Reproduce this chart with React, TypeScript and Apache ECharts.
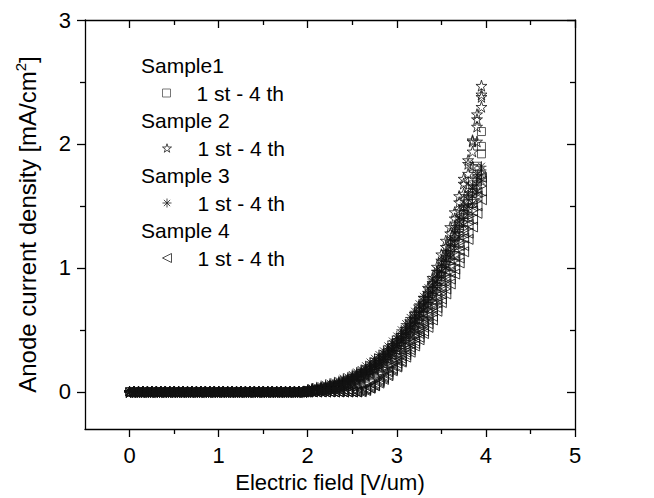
import React, { useEffect, useRef } from "react";
import * as echarts from "echarts";

const FONT = "'Liberation Sans', Arial, Helvetica, sans-serif";

// Electric field grid [V/um]
const X_FLAT = [0, 0.05, 0.1, 0.15, 0.2, 0.25, 0.3, 0.35, 0.4, 0.45, 0.5, 0.55, 0.6, 0.65, 0.7, 0.75, 0.8, 0.85, 0.9, 0.95,
  1, 1.05, 1.1, 1.15, 1.2, 1.25, 1.3, 1.35, 1.4, 1.45, 1.5, 1.55, 1.6, 1.65, 1.7, 1.75, 1.8, 1.85, 1.9, 1.95];
const Y_FLAT = [0, 0, 0, 0, 0, 0, 0, 0, 0, 0, 0, 0, 0, 0, 0, 0, 0, 0, 0, 0,
  0, 0, 0, 0, 0, 0, 0, 0, 0, 0, 0, 0, 0, 0, 0, 0, 0, 0, 0, 0];
const X_RISE = [2, 2.05, 2.1, 2.15, 2.2, 2.25, 2.3, 2.35, 2.4, 2.45, 2.5, 2.55, 2.6, 2.65, 2.7, 2.75, 2.8, 2.85, 2.9, 2.95,
  3, 3.05, 3.1, 3.15, 3.2, 3.25, 3.3, 3.35, 3.4, 3.45, 3.5, 3.55, 3.6, 3.65, 3.7, 3.75, 3.8, 3.85, 3.9, 3.95];

// Anode current density [mA/cm2] on X_RISE
const S1_RUN1 = [0.01, 0.01, 0.01, 0.02, 0.02, 0.03, 0.03, 0.04, 0.05, 0.06, 0.08, 0.09, 0.11, 0.13, 0.15, 0.18, 0.2, 0.23, 0.27, 0.3,
  0.34, 0.38, 0.43, 0.48, 0.53, 0.58, 0.64, 0.71, 0.78, 0.85, 0.93, 1.02, 1.11, 1.21, 1.32, 1.43, 1.55, 1.67, 1.8, 2.1];
const S1_RUN2 = [0, 0.01, 0.01, 0.01, 0.02, 0.02, 0.03, 0.03, 0.04, 0.05, 0.07, 0.08, 0.1, 0.12, 0.14, 0.16, 0.19, 0.21, 0.25, 0.28,
  0.32, 0.36, 0.4, 0.45, 0.5, 0.55, 0.61, 0.67, 0.74, 0.81, 0.89, 0.97, 1.06, 1.16, 1.26, 1.37, 1.48, 1.6, 1.72, 1.98];
const S1_RUN3 = [0.01, 0.01, 0.02, 0.02, 0.03, 0.03, 0.04, 0.05, 0.06, 0.07, 0.09, 0.1, 0.12, 0.14, 0.17, 0.19, 0.22, 0.25, 0.29, 0.32,
  0.36, 0.41, 0.45, 0.5, 0.56, 0.61, 0.68, 0.74, 0.81, 0.89, 0.97, 1.06, 1.15, 1.25, 1.36, 1.47, 1.58, 1.7, 1.82, 1.92];
const S1_RUN4 = [0, 0, 0.01, 0.01, 0.01, 0.02, 0.02, 0.03, 0.04, 0.05, 0.06, 0.07, 0.09, 0.11, 0.13, 0.15, 0.17, 0.2, 0.23, 0.26,
  0.3, 0.34, 0.38, 0.42, 0.47, 0.52, 0.57, 0.63, 0.7, 0.77, 0.84, 0.92, 1.01, 1.1, 1.2, 1.3, 1.41, 1.52, 1.63, 1.75];

const S2_RUN1 = [0.01, 0.02, 0.02, 0.03, 0.03, 0.04, 0.05, 0.06, 0.07, 0.09, 0.1, 0.12, 0.13, 0.16, 0.18, 0.21, 0.24, 0.27, 0.31, 0.35,
  0.39, 0.43, 0.48, 0.54, 0.59, 0.66, 0.72, 0.8, 0.88, 0.97, 1.06, 1.17, 1.28, 1.4, 1.53, 1.68, 1.84, 2.02, 2.24, 2.47];
const S2_RUN2 = [0.01, 0.01, 0.02, 0.02, 0.03, 0.04, 0.04, 0.05, 0.06, 0.08, 0.09, 0.11, 0.12, 0.14, 0.17, 0.19, 0.22, 0.25, 0.29, 0.32,
  0.36, 0.4, 0.45, 0.5, 0.55, 0.61, 0.68, 0.75, 0.83, 0.91, 1.0, 1.1, 1.21, 1.33, 1.46, 1.6, 1.76, 1.94, 2.14, 2.38];
const S2_RUN3 = [0.01, 0.02, 0.02, 0.03, 0.04, 0.05, 0.06, 0.07, 0.08, 0.09, 0.11, 0.13, 0.15, 0.17, 0.2, 0.23, 0.26, 0.29, 0.33, 0.37,
  0.41, 0.46, 0.51, 0.57, 0.63, 0.69, 0.76, 0.84, 0.92, 1.01, 1.11, 1.22, 1.33, 1.45, 1.58, 1.72, 1.87, 2.03, 2.2, 2.4];
const S2_RUN4 = [0, 0.01, 0.01, 0.02, 0.02, 0.03, 0.04, 0.04, 0.05, 0.07, 0.08, 0.09, 0.11, 0.13, 0.15, 0.18, 0.2, 0.23, 0.27, 0.3,
  0.34, 0.38, 0.42, 0.47, 0.52, 0.58, 0.64, 0.71, 0.78, 0.86, 0.95, 1.04, 1.14, 1.25, 1.37, 1.5, 1.65, 1.82, 2.02, 2.3];

const S3_RUN1 = [0.02, 0.03, 0.03, 0.04, 0.05, 0.06, 0.07, 0.08, 0.1, 0.11, 0.13, 0.15, 0.17, 0.19, 0.22, 0.25, 0.28, 0.31, 0.35, 0.39,
  0.43, 0.47, 0.52, 0.57, 0.62, 0.68, 0.74, 0.8, 0.87, 0.95, 1.02, 1.1, 1.19, 1.28, 1.37, 1.46, 1.55, 1.64, 1.72, 1.79];
const S3_RUN2 = [0.01, 0.02, 0.03, 0.03, 0.04, 0.05, 0.06, 0.07, 0.09, 0.1, 0.12, 0.14, 0.16, 0.18, 0.2, 0.23, 0.26, 0.29, 0.33, 0.36,
  0.4, 0.44, 0.49, 0.54, 0.59, 0.64, 0.7, 0.76, 0.83, 0.9, 0.97, 1.05, 1.13, 1.22, 1.31, 1.4, 1.49, 1.58, 1.67, 1.75];
const S3_RUN3 = [0.02, 0.03, 0.04, 0.05, 0.06, 0.07, 0.08, 0.09, 0.11, 0.12, 0.14, 0.16, 0.18, 0.21, 0.24, 0.27, 0.3, 0.33, 0.37, 0.41,
  0.45, 0.5, 0.55, 0.6, 0.65, 0.71, 0.77, 0.84, 0.91, 0.98, 1.06, 1.14, 1.23, 1.32, 1.41, 1.5, 1.59, 1.67, 1.75, 1.82];
const S3_RUN4 = [0.01, 0.01, 0.02, 0.03, 0.03, 0.04, 0.05, 0.06, 0.07, 0.09, 0.1, 0.12, 0.14, 0.16, 0.18, 0.21, 0.24, 0.27, 0.3, 0.34,
  0.37, 0.41, 0.46, 0.5, 0.55, 0.61, 0.66, 0.72, 0.79, 0.86, 0.93, 1.0, 1.08, 1.17, 1.25, 1.34, 1.43, 1.52, 1.61, 1.7];

const S4_RUN1 = [0, 0, 0, 0, 0, 0, 0, 0, 0, 0, 0, 0, 0.01, 0.02, 0.04, 0.06, 0.09, 0.12, 0.16, 0.19,
  0.23, 0.27, 0.32, 0.36, 0.41, 0.47, 0.52, 0.58, 0.65, 0.72, 0.79, 0.87, 0.96, 1.05, 1.14, 1.24, 1.35, 1.46, 1.58, 1.7];
const S4_RUN2 = [0, 0, 0, 0, 0, 0, 0, 0, 0, 0, 0, 0, 0.01, 0.02, 0.03, 0.05, 0.08, 0.11, 0.14, 0.18,
  0.21, 0.25, 0.3, 0.34, 0.39, 0.44, 0.49, 0.55, 0.61, 0.68, 0.75, 0.83, 0.91, 0.99, 1.08, 1.18, 1.28, 1.39, 1.5, 1.62];
const S4_RUN3 = [0, 0, 0, 0, 0, 0, 0, 0, 0, 0, 0, 0.01, 0.02, 0.03, 0.05, 0.07, 0.1, 0.13, 0.17, 0.21,
  0.25, 0.29, 0.34, 0.39, 0.44, 0.49, 0.55, 0.61, 0.68, 0.75, 0.83, 0.91, 1.0, 1.09, 1.18, 1.28, 1.39, 1.5, 1.61, 1.73];
const S4_RUN4 = [0, 0, 0, 0, 0, 0, 0, 0, 0, 0, 0, 0, 0, 0.01, 0.03, 0.05, 0.07, 0.1, 0.13, 0.17,
  0.2, 0.24, 0.28, 0.32, 0.37, 0.42, 0.47, 0.52, 0.58, 0.65, 0.72, 0.79, 0.87, 0.95, 1.04, 1.13, 1.23, 1.33, 1.44, 1.55];

const SAMPLE_NAMES = ["Sample1", "Sample 2", "Sample 3", "Sample 4"];
const RUN_LABEL = "1 st - 4 th";
const X_MAJOR = [0, 1, 2, 3, 4, 5];
const X_MINOR = [0.5, 1.5, 2.5, 3.5, 4.5];
const Y_MAJOR = [0, 1, 2, 3];
const Y_MINOR = [0.5, 1.5, 2.5];

const SYMBOLS = [
  "rect",
  "path://M50,0 L61,35 L98,35 L68,57 L79,91 L50,70 L21,91 L32,57 L2,35 L39,35 Z",
  "path://M0,50 L100,50 M50,0 L50,100 M15,15 L85,85 M85,15 L15,85",
  "path://M0,50 L100,0 L100,100 Z",
];
const SYMBOL_SIZES = [8, 11, 10, 10];
const LEGEND_SIZES = [8, 9, 9, 9];
const SAMPLE_RUNS = [
  [S1_RUN1, S1_RUN2, S1_RUN3, S1_RUN4],
  [S2_RUN1, S2_RUN2, S2_RUN3, S2_RUN4],
  [S3_RUN1, S3_RUN2, S3_RUN3, S3_RUN4],
  [S4_RUN1, S4_RUN2, S4_RUN3, S4_RUN4],
];

export default function App() {
  const ref = useRef<HTMLDivElement>(null);
  useEffect(() => {
    document.body.style.margin = "0";
    const chart = echarts.init(ref.current!, undefined, { renderer: "svg" });

    const series: any[] = [];
    SAMPLE_RUNS.forEach((runs, si) => {
      runs.forEach((ys, ri) => {
        const data: number[][] = [];
        X_FLAT.forEach((x, i) => data.push([x, Y_FLAT[i]]));
        X_RISE.forEach((x, i) => data.push([x, ys[i]]));
        series.push({
          type: "scatter",
          name: `${SAMPLE_NAMES[si]} run ${ri + 1}`,
          data,
          symbol: SYMBOLS[si],
          symbolSize: SYMBOL_SIZES[si],
          itemStyle: { color: "transparent", borderColor: si === 0 ? "#333" : "#111", borderWidth: 1 },
          emphasis: { disabled: true },
          silent: true,
        });
      });
    });

    const legendCenters = [93, 148, 203, 258];
    const headingCenters = [65, 120, 175, 230];
    const legends = SAMPLE_NAMES.map((s, i) => ({
      data: [`${s} run 1`],
      left: 162,
      top: legendCenters[i] - 11,
      padding: 0,
      itemWidth: LEGEND_SIZES[i],
      itemHeight: LEGEND_SIZES[i],
      selectedMode: false,
      itemStyle: { color: "transparent", borderColor: i === 0 ? "#555" : "#222", borderWidth: 1 },
      formatter: () => RUN_LABEL,
      textStyle: { fontSize: 21, fontFamily: FONT, color: "#000", lineHeight: 22, padding: [0, 0, 0, 21] },
    }));

    const axisLine = { show: true, onZero: false, lineStyle: { color: "#000", width: 1.3 } };
    const noLine = { show: false, onZero: false };
    const hiddenLabel = { show: false };
    const baseX = { type: "value", min: -0.5, max: 5, splitLine: { show: false } };
    const baseY = { type: "value", min: -0.3, max: 3, splitLine: { show: false } };
    const tickStyle = { color: "#000", width: 1.3 };

    chart.setOption({
      animation: false,
      backgroundColor: "#fff",
      grid: { left: 85, right: 79, top: 20, bottom: 65, containLabel: false },
      xAxis: [
        {
          ...baseX, position: "bottom", axisLine,
          axisTick: { customValues: X_MAJOR, length: 8, lineStyle: tickStyle },
          axisLabel: { customValues: X_MAJOR, fontSize: 22, color: "#000", fontFamily: FONT, margin: 15 },
          name: "Electric field [V/um)", nameLocation: "middle", nameGap: 42,
          nameTextStyle: { fontSize: 22, color: "#000", fontFamily: FONT },
        },
        {
          ...baseX, position: "bottom", axisLine: noLine,
          axisTick: { customValues: X_MINOR, length: 5, lineStyle: tickStyle },
          axisLabel: hiddenLabel,
        },
        {
          ...baseX, position: "top", axisLine,
          axisTick: { customValues: X_MAJOR, inside: true, length: 8, lineStyle: tickStyle },
          axisLabel: hiddenLabel,
        },
        {
          ...baseX, position: "top", axisLine: noLine,
          axisTick: { customValues: X_MINOR, inside: true, length: 5, lineStyle: tickStyle },
          axisLabel: hiddenLabel,
        },
      ],
      yAxis: [
        {
          ...baseY, position: "left", axisLine,
          axisTick: { customValues: Y_MAJOR, length: 8, lineStyle: tickStyle },
          axisLabel: { customValues: Y_MAJOR, fontSize: 22, color: "#000", fontFamily: FONT, margin: 14 },
          name: "Anode current density [mA/cm{sup|2}]", nameLocation: "middle", nameGap: 44, nameRotate: 90,
          nameTextStyle: {
            fontSize: 24, color: "#000", fontFamily: FONT, lineHeight: 28,
            rich: { sup: { fontSize: 15, fontFamily: FONT, color: "#000", verticalAlign: "top", lineHeight: 15 } },
          },
        },
        {
          ...baseY, position: "left", axisLine: noLine,
          axisTick: { customValues: Y_MINOR, length: 5, lineStyle: tickStyle },
          axisLabel: hiddenLabel,
        },
        {
          ...baseY, position: "right", axisLine,
          axisTick: { customValues: Y_MAJOR, inside: true, length: 8, lineStyle: tickStyle },
          axisLabel: hiddenLabel,
        },
        {
          ...baseY, position: "right", axisLine: noLine,
          axisTick: { customValues: Y_MINOR, inside: true, length: 5, lineStyle: tickStyle },
          axisLabel: hiddenLabel,
        },
      ],
      legend: legends,
      graphic: SAMPLE_NAMES.map((s, i) => ({
        type: "text",
        x: 141,
        y: headingCenters[i],
        silent: true,
        style: { text: s, fontSize: 21, fontFamily: FONT, fill: "#000", verticalAlign: "middle" },
      })),
      series,
    });
    return () => chart.dispose();
  }, []);
  return <div ref={ref} style={{ width: 654, height: 498 }} />;
}
